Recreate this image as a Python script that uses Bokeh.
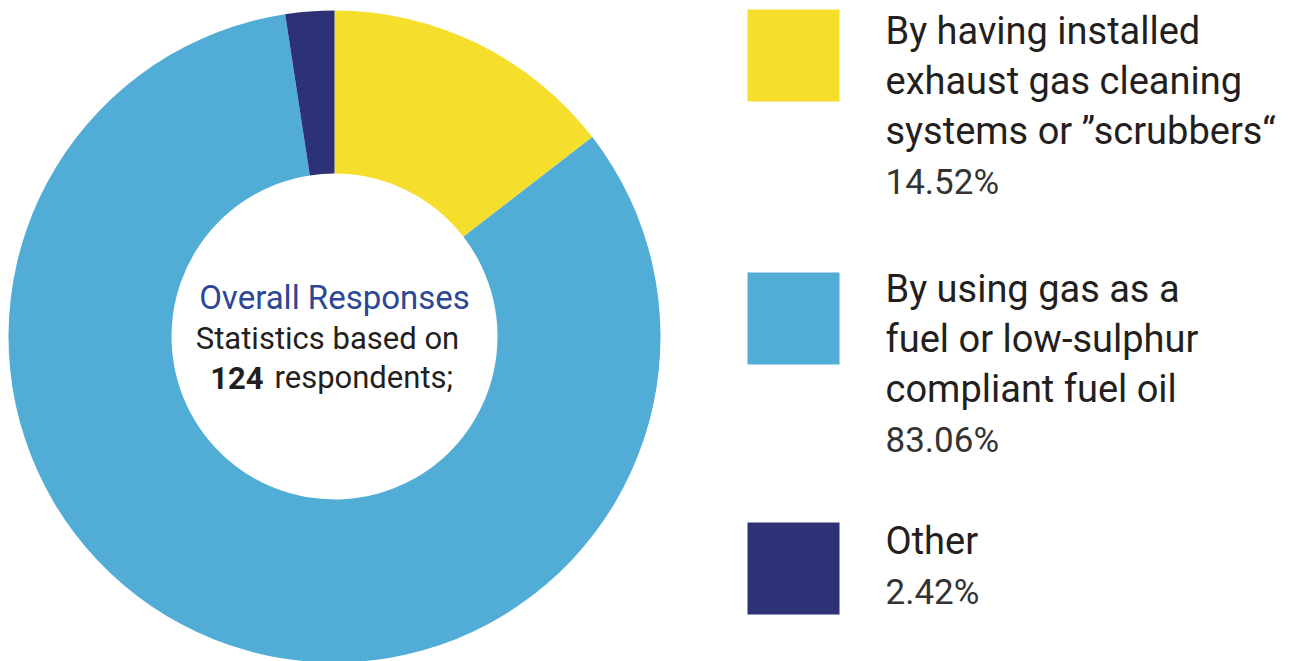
import numpy as np
from bokeh.plotting import figure
from bokeh.models import Range1d
from bokeh.core.properties import value
from bokeh.embed import file_html
from bokeh.resources import INLINE

# ---- data ----
categories = ["Scrubbers", "Gas or low-sulphur fuel", "Other"]
label_lines = [
    ["By having installed", "exhaust gas cleaning", "systems or \u201dscrubbers\u201c"],
    ["By using gas as a", "fuel or low-sulphur", "compliant fuel oil"],
    ["Other"],
]
percentages = [14.52, 83.06, 2.42]
colors = ["#F6DF2C", "#51ADD6", "#2D3277"]
respondents = 124
center_title = "Overall Responses"
center_sub = "Statistics based on"

# ---- layout ----
W, H = 1307, 661
FONT = "Roboto"
DARK = "#231F20"

def Y(y):
    return H - y

p = figure(width=W, height=H, x_range=Range1d(0, W), y_range=Range1d(0, H),
           output_backend="svg", toolbar_location=None, min_border=0)
p.axis.visible = False
p.grid.visible = False
p.outline_line_color = None
p.background_fill_color = "white"

# donut
fr = np.array(percentages) / sum(percentages)
cum = np.concatenate([[0], np.cumsum(fr)])
start = np.pi / 2 - 2 * np.pi * cum[:-1]
end = np.pi / 2 - 2 * np.pi * cum[1:]
cx, cy = 334, Y(336)
p.annular_wedge(x=[cx] * 3, y=[cy] * 3, inner_radius=163, outer_radius=326,
                start_angle=list(start), end_angle=list(end), direction="clock",
                fill_color=colors, line_color=None)

# centre text
p.text(x=[cx], y=[Y(297)], text=[center_title], text_font=value(FONT),
       text_font_size="33px", text_color="#2B4796", text_align="center",
       text_baseline="middle")
p.text(x=[327], y=[Y(338)], text=[center_sub], text_font=value(FONT),
       text_font_size="31px", text_color=DARK, text_align="center",
       text_baseline="middle", text_font_style="normal")
p.text(x=[263], y=[Y(377)], text=[str(respondents)], text_font=value(FONT),
       text_font_size="31px", text_color=DARK, text_align="right",
       text_baseline="middle", text_font_style="bold")
p.text(x=[274], y=[Y(377)], text=["respondents;"], text_font=value(FONT),
       text_font_size="31px", text_color=DARK, text_align="left",
       text_baseline="middle")

# legend
sq_y = [55, 318, 568]
line_y0 = [30, 288, 540]
gap = 50
for i in range(3):
    p.rect(x=[793], y=[Y(sq_y[i])], width=92, height=92, fill_color=colors[i], line_color=None)
    lines = label_lines[i]
    ys = [Y(line_y0[i] + gap * k) for k in range(len(lines))]
    p.text(x=[885] * len(lines), y=ys, text=lines, text_font=value(FONT),
           text_font_size="38px", text_color=DARK, text_align="left",
           text_baseline="middle")
    p.text(x=[885], y=[Y(line_y0[i] + gap * len(lines) + 2)], text=[f"{percentages[i]:.2f}%"],
           text_font=value(FONT), text_font_size="35px", text_color="#333333",
           text_align="left", text_baseline="middle")

open("out.html", "w").write(file_html(p, INLINE))
